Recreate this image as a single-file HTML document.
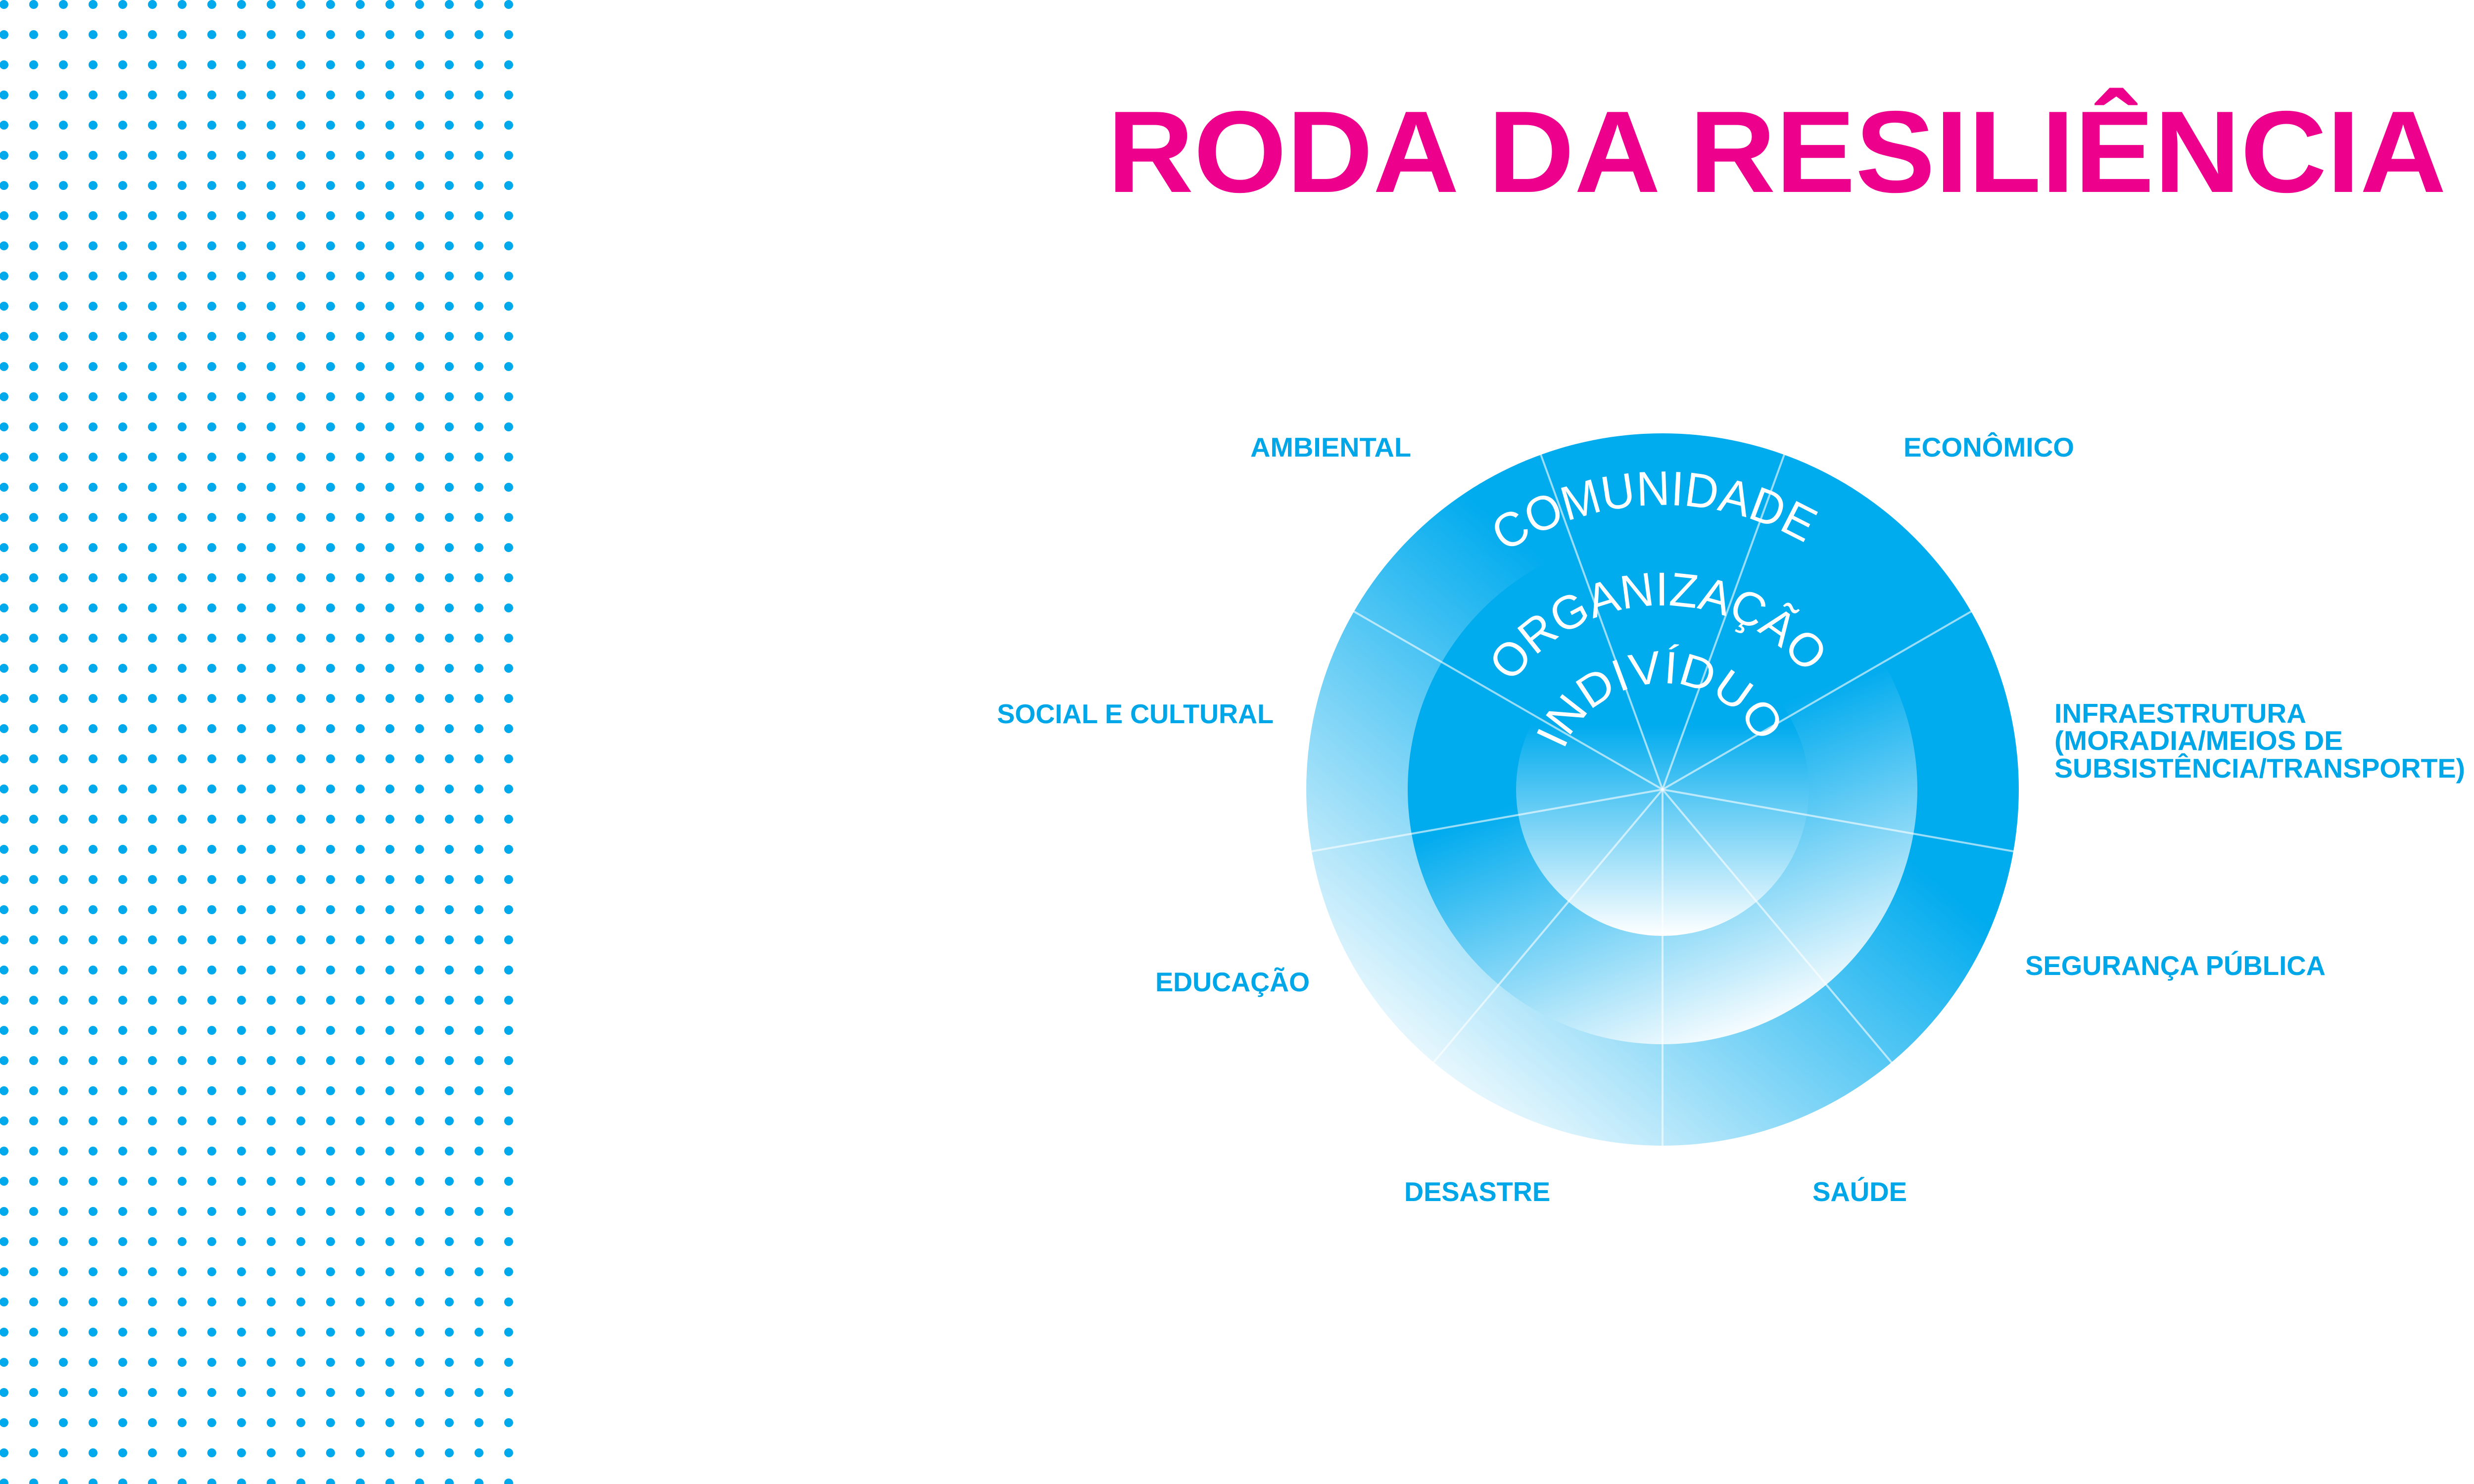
<!DOCTYPE html>
<html><head><meta charset="utf-8"><style>
html,body{margin:0;padding:0;background:#fff;}
svg{display:block;}
</style></head><body>
<svg width="5334" height="3000" viewBox="0 0 5334 3000" xmlns="http://www.w3.org/2000/svg">
<defs>
<pattern id="dots" x="-22" y="-21" width="60" height="61" patternUnits="userSpaceOnUse">
<circle cx="30" cy="30" r="9" fill="#00a9ec"/>
</pattern>
<linearGradient id="gOut" x1="0.85" y1="0.1" x2="0.15" y2="0.95">
<stop offset="0.35" stop-color="#00abee"/>
<stop offset="1" stop-color="#ffffff"/>
</linearGradient>
<linearGradient id="gMid" x1="0.35" y1="0.2" x2="0.65" y2="1">
<stop offset="0.3" stop-color="#00abee"/>
<stop offset="1" stop-color="#ffffff"/>
</linearGradient>
<linearGradient id="gIn" x1="0.5" y1="0.15" x2="0.5" y2="1">
<stop offset="0.15" stop-color="#00abee"/>
<stop offset="1" stop-color="#ffffff"/>
</linearGradient>
<path id="arc1" d="M 2785 1596 A 575 575 0 0 1 3935 1596"/>
<path id="arc2" d="M 2988 1596 A 372 372 0 0 1 3732 1596"/>
<path id="arc3" d="M 3145 1596 A 215 215 0 0 1 3575 1596"/>
</defs>
<rect x="0" y="0" width="1045" height="3010" fill="url(#dots)"/>

<text x="2238" y="388" font-family="Liberation Sans, sans-serif" font-weight="bold" font-size="235" fill="#ec008c" textLength="2706" lengthAdjust="spacingAndGlyphs">RODA DA RESILIÊNCIA</text>

<circle cx="3360" cy="1596" r="720" fill="url(#gOut)"/>
<circle cx="3360" cy="1596" r="515" fill="url(#gMid)"/>
<circle cx="3360" cy="1596" r="296" fill="url(#gIn)"/>

<g stroke="#ffffff" stroke-opacity="0.6" stroke-width="4">
<line x1="3360" y1="1596" x2="3114" y2="919"/>
<line x1="3360" y1="1596" x2="3606" y2="919"/>
<line x1="3360" y1="1596" x2="3984" y2="1236"/>
<line x1="3360" y1="1596" x2="4069" y2="1721"/>
<line x1="3360" y1="1596" x2="3823" y2="2148"/>
<line x1="3360" y1="1596" x2="3360" y2="2316"/>
<line x1="3360" y1="1596" x2="2897" y2="2148"/>
<line x1="3360" y1="1596" x2="2651" y2="1721"/>
<line x1="3360" y1="1596" x2="2736" y2="1236"/>
</g>

<g font-family="Liberation Sans, sans-serif" fill="#ffffff" text-anchor="middle">
<text font-size="98"><textPath href="#arc1" startOffset="49%" textLength="640" lengthAdjust="spacingAndGlyphs">COMUNIDADE</textPath></text>
<text font-size="96"><textPath href="#arc2" startOffset="49%" textLength="690" lengthAdjust="spacingAndGlyphs">ORGANIZAÇÃO</textPath></text>
<text font-size="92"><textPath href="#arc3" startOffset="49%" textLength="500" lengthAdjust="spacingAndGlyphs">INDIVÍDUO</textPath></text>
</g>

<g font-family="Liberation Sans, sans-serif" font-weight="bold" font-size="55" fill="#00a7e8" lengthAdjust="spacingAndGlyphs">
<text x="2527" y="923" textLength="325" lengthAdjust="spacingAndGlyphs">AMBIENTAL</text>
<text x="3847" y="923" textLength="345" lengthAdjust="spacingAndGlyphs">ECONÔMICO</text>
<text x="2015" y="1462" textLength="559" lengthAdjust="spacingAndGlyphs">SOCIAL E CULTURAL</text>
<text x="4152" y="1461" textLength="509" lengthAdjust="spacingAndGlyphs">INFRAESTRUTURA</text>
<text x="4152" y="1516" textLength="583" lengthAdjust="spacingAndGlyphs">(MORADIA/MEIOS DE</text>
<text x="4152" y="1572" textLength="830" lengthAdjust="spacingAndGlyphs">SUBSISTÊNCIA/TRANSPORTE)</text>
<text x="4093" y="1971" textLength="607" lengthAdjust="spacingAndGlyphs">SEGURANÇA PÚBLICA</text>
<text x="2335" y="2004" textLength="312" lengthAdjust="spacingAndGlyphs">EDUCAÇÃO</text>
<text x="2838" y="2428" textLength="295" lengthAdjust="spacingAndGlyphs">DESASTRE</text>
<text x="3663" y="2428" textLength="191" lengthAdjust="spacingAndGlyphs">SAÚDE</text>
</g>
</svg>
</body></html>
